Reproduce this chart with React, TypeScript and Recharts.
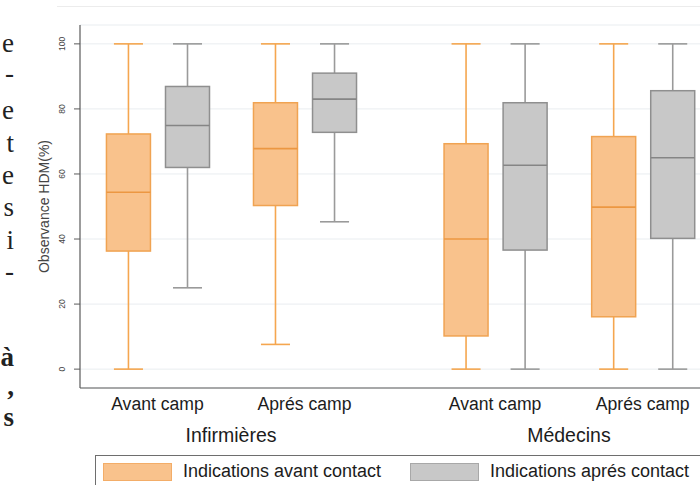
import React from 'react';
import { ComposedChart, Bar, XAxis, YAxis, CartesianGrid, Legend } from 'recharts';

// ---- data ----
const campLabels = ['Avant camp', 'Aprés camp', 'Avant camp', 'Aprés camp'];
const groupPos = [2.625, 7.605, 14.06, 19.06];
const professions = ['Infirmières', 'Médecins'];
const professionPos = [5.115, 16.56];
const seriesNames = ['Indications avant contact', 'Indications aprés contact'];
const yTicks = [0, 20, 40, 60, 80, 100];

const avantMin = [0, 7.6, 0, 0];
const avantQ1 = [36.3, 50.3, 10.2, 16.1];
const avantMed = [54.4, 67.8, 40.0, 49.8];
const avantQ3 = [72.3, 81.9, 69.3, 71.5];
const avantMax = [100, 100, 100, 100];

const apresMin = [25.0, 45.3, 0, 0];
const apresQ1 = [62.0, 72.8, 36.6, 40.2];
const apresMed = [74.9, 83.0, 62.7, 65.0];
const apresQ3 = [86.9, 91.0, 81.9, 85.6];
const apresMax = [100, 100, 100, 100];

const sideText = [
  { t: 'e', top: 43, bold: false },
  { t: '-', top: 73, bold: false },
  { t: 'e', top: 110, bold: false },
  { t: 't', top: 143, bold: false },
  { t: 'e', top: 175, bold: false },
  { t: 's', top: 207, bold: false },
  { t: 'i', top: 240, bold: false },
  { t: '-', top: 271, bold: false },
  { t: 'à', top: 357, bold: true },
  { t: ',', top: 386, bold: true },
  { t: 's', top: 417, bold: true },
];

const palette = [
  { fill: '#f9c28c', stroke: '#f0a352', whisker: '#f5a64f', median: '#ec9742' },
  { fill: '#c8c8c8', stroke: '#8f8f8f', whisker: '#9a9a9a', median: '#858585' },
];

const rows: any[] = [];
groupPos.forEach((g, i) => {
  rows.push({ pos: g - 1, kind: 0, min: avantMin[i], q1: avantQ1[i], med: avantMed[i], q3: avantQ3[i], max: avantMax[i], range: [avantMin[i], avantMax[i]] });
  rows.push({ pos: g + 1, kind: 1, min: apresMin[i], q1: apresQ1[i], med: apresMed[i], q3: apresQ3[i], max: apresMax[i], range: [apresMin[i], apresMax[i]] });
});

const FONT = '"Liberation Sans", Arial, sans-serif';

const BoxShape = (props: any) => {
  const { x, y, width, height, payload } = props;
  const { min, q1, med, q3, max, kind } = payload;
  const toPx = (v: number) => y + (height * (max - v)) / (max - min);
  const cx = x + width / 2;
  const c = palette[kind];
  const cap = width * 0.66;
  return (
    <g>
      <line x1={cx} x2={cx} y1={toPx(max)} y2={toPx(q3)} stroke={c.whisker} strokeWidth={1.6} />
      <line x1={cx} x2={cx} y1={toPx(q1)} y2={toPx(min)} stroke={c.whisker} strokeWidth={1.6} />
      <line x1={cx - cap / 2} x2={cx + cap / 2} y1={toPx(max)} y2={toPx(max)} stroke={c.whisker} strokeWidth={1.6} />
      <line x1={cx - cap / 2} x2={cx + cap / 2} y1={toPx(min)} y2={toPx(min)} stroke={c.whisker} strokeWidth={1.6} />
      <rect x={x} y={toPx(q3)} width={width} height={toPx(q1) - toPx(q3)} fill={c.fill} stroke={c.stroke} strokeWidth={1.5} />
      <line x1={x} x2={x + width} y1={toPx(med)} y2={toPx(med)} stroke={c.median} strokeWidth={1.6} />
    </g>
  );
};

const CampTick = (p: any) => {
  const idx = groupPos.indexOf(p.payload.value);
  return (
    <text x={p.x} y={p.y} dy={14} textAnchor="middle" fontFamily={FONT} fontSize={17.6} fill="#1c1c1c">
      {campLabels[idx]}
    </text>
  );
};

const ProfTick = (p: any) => {
  const idx = professionPos.indexOf(p.payload.value);
  return (
    <text x={p.x} y={p.y} dy={13} textAnchor="middle" fontFamily={FONT} fontSize={19.5} fill="#1c1c1c">
      {professions[idx]}
    </text>
  );
};

const YTick = (p: any) => (
  <text
    transform={`translate(${p.x - 7},${p.y}) rotate(-90)`}
    textAnchor="middle"
    fontFamily={FONT}
    fontSize={8.5}
    fill="#444"
  >
    {p.payload.value}
  </text>
);

const YTitle = (p: any) => {
  const vb = p.viewBox;
  const cy = vb.y + vb.height / 2;
  return (
    <text
      transform={`translate(49,${cy}) rotate(-90)`}
      textAnchor="middle"
      fontFamily={FONT}
      fontSize={14}
      fill="#444"
    >
      Observance HDM(%)
    </text>
  );
};

const LegendContent = () => (
  <div
    style={{
      position: 'relative',
      width: 640,
      height: 40,
      border: '1px solid #6e6e6e',
      boxSizing: 'border-box',
      background: '#fff',
      display: 'flex',
      paddingLeft: 7,
      paddingTop: 6,
    }}
  >
    {seriesNames.map((n, i) => (
      <div key={n} style={{ display: 'flex', alignItems: 'center', width: 307, height: 19 }}>
        <div
          style={{
            width: 69,
            height: 18,
            boxSizing: 'border-box',
            background: palette[i].fill,
            border: `1px solid ${i === 0 ? '#f3ad68' : '#a8a8a8'}`,
            marginRight: 11,
          }}
        />
        <span style={{ fontFamily: FONT, fontSize: 18, color: '#1c1c1c', whiteSpace: 'nowrap' }}>{n}</span>
      </div>
    ))}
  </div>
);

export default function App() {
  return (
    <div style={{ position: 'absolute', left: 0, top: 0, width: 700, height: 485, overflow: 'hidden', background: '#fff' }}>
      {sideText.map((s, i) => (
        <div
          key={i}
          style={{
            position: 'absolute',
            left: -20,
            width: 34,
            top: s.top - 11,
            height: 22,
            lineHeight: '22px',
            textAlign: 'right',
            fontFamily: '"Liberation Serif", "Times New Roman", serif',
            fontSize: 27,
            fontWeight: s.bold ? 700 : 400,
            color: '#222',
          }}
        >
          {s.t}
        </div>
      ))}
      <div style={{ position: 'absolute', left: 57, top: 6, width: 643, height: 0, borderTop: '1px solid #ececec' }} />
      <ComposedChart
        width={700}
        height={485}
        data={rows}
        margin={{ top: 25, right: 0, bottom: 0, left: 0 }}
        style={{ position: 'absolute', left: 0, top: 0 }}
      >
        <CartesianGrid vertical={false} stroke="#e9edf0" strokeWidth={1} />
        <XAxis
          dataKey="pos"
          type="number"
          domain={[0, 21]}
          ticks={groupPos}
          tick={<CampTick />}
          tickLine={false}
          axisLine={{ stroke: '#5a5a5a', strokeWidth: 1.2 }}
          height={33}
          allowDataOverflow
        />
        <XAxis
          xAxisId="prof"
          dataKey="pos"
          type="number"
          domain={[0, 21]}
          ticks={professionPos}
          tick={<ProfTick />}
          tickLine={false}
          axisLine={false}
          height={34}
          allowDataOverflow
        />
        <YAxis
          type="number"
          domain={[-5.8, 105.8]}
          ticks={yTicks}
          tick={<YTick />}
          tickLine={{ stroke: '#5a5a5a' }}
          tickSize={6}
          axisLine={{ stroke: '#5a5a5a', strokeWidth: 1.2 }}
          width={80}
          allowDataOverflow
          label={<YTitle />}
        />
        <Legend
          verticalAlign="bottom"
          height={30}
          content={<LegendContent />}
          wrapperStyle={{ left: 95, width: 640, height: 30 }}
        />
        <Bar dataKey="range" barSize={44} shape={<BoxShape />} isAnimationActive={false} />
      </ComposedChart>
    </div>
  );
}
